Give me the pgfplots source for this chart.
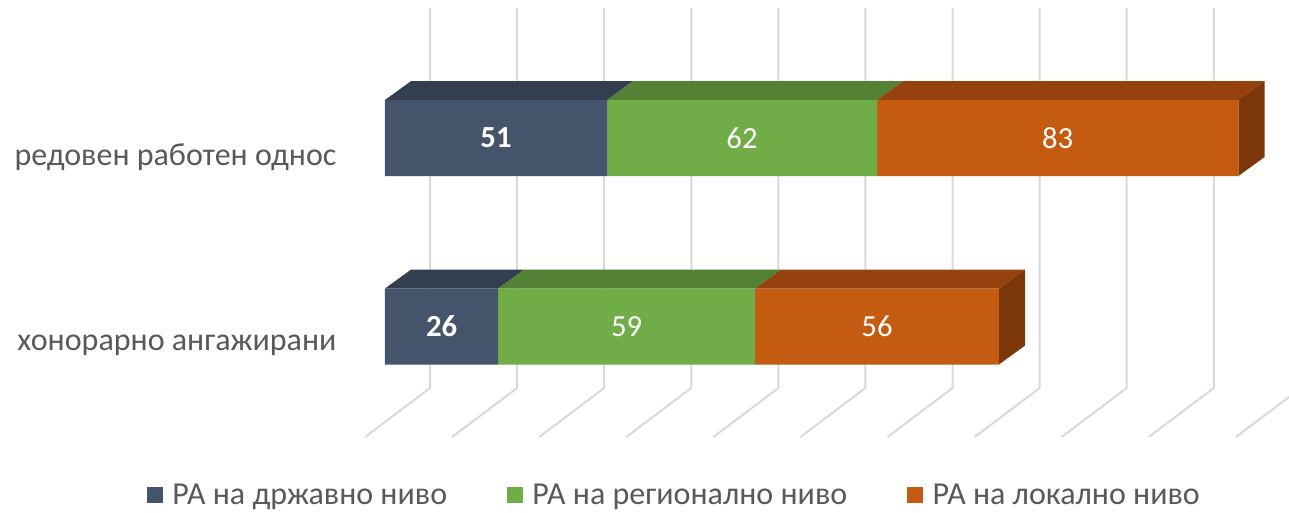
\documentclass[border=0pt]{standalone}
\usepackage{fontspec}
\setmainfont{Carlito}
\usepackage{pgfplots}
\pgfplotsset{compat=1.18}
\definecolor{bl}{HTML}{44546A}
\definecolor{blt}{HTML}{333F50}
\definecolor{gr}{HTML}{70AD47}
\definecolor{grt}{HTML}{548235}
\definecolor{orf}{HTML}{C55A11}
\definecolor{ort}{HTML}{96420E}
\definecolor{ors}{HTML}{7B3709}
\definecolor{gl}{HTML}{D9D9D9}
\definecolor{tx}{HTML}{595959}
\pgfplotsset{base/.style={scale only axis, width=966.75pt, height=384pt,
  xmin=-88.42, xmax=207.62, ymin=0, ymax=512, y dir=reverse,
  axis line style={draw=none}, major tick length=0pt, xtick=\empty, ytick=\empty, clip=true},
  grd/.style={gl, line width=1.5pt, forget plot},
  leg/.style={legend image code/.code={\fill[##1] (0pt,-6pt) rectangle (12pt,6pt);}}}
\begin{document}
\begin{tikzpicture}
% background: gridlines and 3D faces
\begin{axis}[base, ytick={157,345},
  yticklabels={редовен работен однос, хонорарно ангажирани},
  yticklabel style={font=\fontsize{24}{28}\selectfont, text=tx, anchor=east, inner sep=0pt, xshift=252.5pt}]
\addplot[grd] coordinates {(10.34,8) (10.34,388) (-4.59,437)};
\addplot[grd] coordinates {(30.34,8) (30.34,388) (15.41,437)};
\addplot[grd] coordinates {(50.34,8) (50.34,388) (35.41,437)};
\addplot[grd] coordinates {(70.34,8) (70.34,388) (55.41,437)};
\addplot[grd] coordinates {(90.34,8) (90.34,388) (75.41,437)};
\addplot[grd] coordinates {(110.34,8) (110.34,388) (95.41,437)};
\addplot[grd] coordinates {(130.34,8) (130.34,388) (115.41,437)};
\addplot[grd] coordinates {(150.34,8) (150.34,388) (135.41,437)};
\addplot[grd] coordinates {(170.34,8) (170.34,388) (155.41,437)};
\addplot[grd] coordinates {(190.34,8) (190.34,388) (175.41,437)};
\addplot[grd] coordinates {(210.34,8) (210.34,388) (195.41,437)};
% top faces, bar 1 (51, 62, 83)
\addplot[fill=blt, draw=none, forget plot] coordinates {(0,100) (51,100) (57,81) (6,81)} --cycle;
\addplot[fill=grt, draw=none, forget plot] coordinates {(51,100) (113,100) (119,81) (57,81)} --cycle;
\addplot[fill=ort, draw=none, forget plot] coordinates {(113,100) (196,100) (202,81) (119,81)} --cycle;
\addplot[fill=ors, draw=none, forget plot] coordinates {(196,100) (202,81) (202,157) (196,176)} --cycle;
% top faces, bar 2 (26, 59, 56)
\addplot[fill=blt, draw=none, forget plot] coordinates {(0,288.5) (26,288.5) (32,269.5) (6,269.5)} --cycle;
\addplot[fill=grt, draw=none, forget plot] coordinates {(26,288.5) (85,288.5) (91,269.5) (32,269.5)} --cycle;
\addplot[fill=ort, draw=none, forget plot] coordinates {(85,288.5) (141,288.5) (147,269.5) (91,269.5)} --cycle;
\addplot[fill=ors, draw=none, forget plot] coordinates {(141,288.5) (147,269.5) (147,345.5) (141,364.5)} --cycle;
\end{axis}
% front faces
\begin{axis}[base, xbar stacked, bar width=76,
  legend style={at={(axis description cs:0.11404,0.033)}, anchor=west, legend columns=3,
    draw=none, fill=none, inner sep=0pt, outer sep=0pt, nodes={inner sep=0pt},
    font=\fontsize{24}{28}\selectfont, text=tx,
    /tikz/every odd column/.append style={column sep=7pt},
    /tikz/every even column/.append style={column sep=45pt}},
  legend cell align=left]
\addplot[fill=bl, draw=none, leg] coordinates {(51,138) (26,326.5)};
\addplot[fill=gr, draw=none, leg] coordinates {(62,138) (59,326.5)};
\addplot[fill=orf, draw=none, leg] coordinates {(83,138) (56,326.5)};
\legend{РА на државно ниво, РА на регионално ниво, РА на локално ниво}
\end{axis}
% data labels
\begin{axis}[base]
\addplot[draw=none, mark=none, nodes near coords, point meta=explicit symbolic,
  every node near coord/.style={anchor=center, text=white, font=\fontsize{23}{27}\selectfont\bfseries}]
  table[meta=l] {
x y l
25.5 138 51
13 326.5 26
};
\addplot[draw=none, mark=none, nodes near coords, point meta=explicit symbolic,
  every node near coord/.style={anchor=center, text=white, font=\fontsize{23}{27}\selectfont}]
  table[meta=l] {
x y l
82 138 62
154.5 138 83
55.5 326.5 59
113 326.5 56
};
\end{axis}
\pgfresetboundingbox
\useasboundingbox (current axis.south west) rectangle (current axis.north east);
\end{tikzpicture}
\end{document}
